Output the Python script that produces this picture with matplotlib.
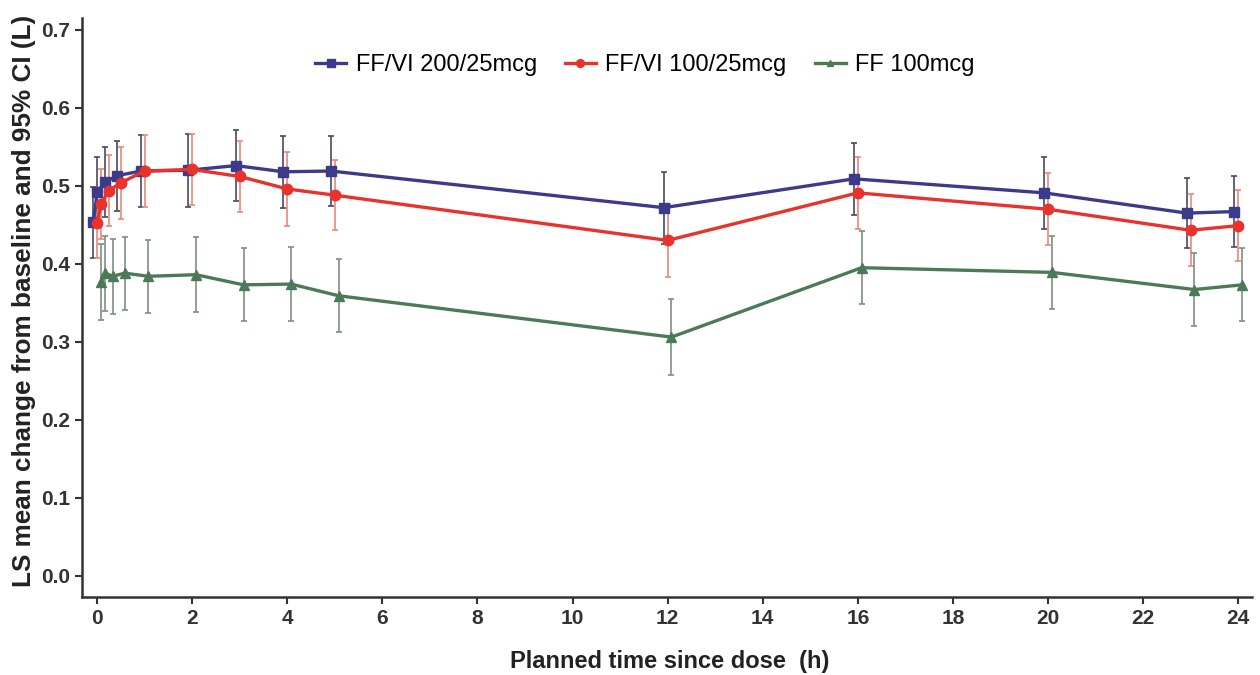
import matplotlib
matplotlib.use("Agg")
import matplotlib.pyplot as plt
import numpy as np

plt.rcParams["font.family"] = ["Liberation Sans", "DejaVu Sans"]

# Planned sampling times (h)
times = np.array([0, 0.083, 0.25, 0.5, 1, 2, 3, 4, 5, 12, 16, 20, 23, 24])

# LS mean change from baseline (L) and 95% CI half-widths
ff_vi_200 = [0.453, 0.492, 0.505, 0.513, 0.519, 0.520, 0.526, 0.518, 0.519,
             0.472, 0.509, 0.491, 0.465, 0.467]
ff_vi_200_ci = [0.045, 0.045, 0.045, 0.045, 0.046, 0.047, 0.045, 0.046, 0.045,
                0.046, 0.046, 0.046, 0.045, 0.046]

ff_vi_100 = [0.452, 0.477, 0.494, 0.504, 0.519, 0.521, 0.512, 0.496, 0.488,
             0.430, 0.491, 0.470, 0.443, 0.449]
ff_vi_100_ci = [0.045, 0.045, 0.046, 0.046, 0.046, 0.045, 0.045, 0.047, 0.045,
                0.047, 0.046, 0.046, 0.046, 0.046]

ff_100 = [0.377, 0.388, 0.384, 0.388, 0.384, 0.386, 0.373, 0.374, 0.359,
          0.306, 0.395, 0.389, 0.367, 0.373]
ff_100_ci = [0.049, 0.048, 0.048, 0.047, 0.047, 0.048, 0.047, 0.047, 0.047,
             0.049, 0.047, 0.047, 0.047, 0.047]

labels = ["FF/VI 200/25mcg", "FF/VI 100/25mcg", "FF 100mcg"]

fig = plt.figure(figsize=(12.6, 6.75), dpi=100)
ax = fig.add_axes([0.065, 0.116, 0.929, 0.857])

# series: values, ci, colour, error bar colour, marker, size, dodge
series = [
    (ff_vi_200, ff_vi_200_ci, "#3c3a8a", "#4a4860", "s", 7.5, -0.08),
    (ff_vi_100, ff_vi_100_ci, "#e8322b", "#e8887a", "o", 7.5, 0.0),
    (ff_100, ff_100_ci, "#4b7a58", "#7d8f82", "^", 6.5, 0.08),
]

for (vals, ci, col, ecol, mk, ms, dx), lab in zip(series, labels):
    x = times + dx
    ax.errorbar(x, vals, yerr=ci, fmt="none", ecolor=ecol, elinewidth=1.2,
                capsize=2.5, capthick=1.2, zorder=2)
    ax.plot(x, vals, color=col, linewidth=2.4, marker=mk, markersize=ms,
            markerfacecolor=col, markeredgecolor=col, label=lab, zorder=3)

ax.set_xlim(-0.32, 24.3)
ax.set_ylim(-0.027, 0.715)
ax.set_xticks(np.arange(0, 25, 2))
ax.set_yticks(np.arange(0, 0.71, 0.1))
ax.yaxis.set_major_formatter(matplotlib.ticker.FormatStrFormatter("%.1f"))

for side in ["top", "right"]:
    ax.spines[side].set_visible(False)
for side in ["left", "bottom"]:
    ax.spines[side].set_linewidth(1.8)
    ax.spines[side].set_color("#333333")

ax.tick_params(axis="both", direction="out", length=5, width=1.5,
               colors="#333333", labelsize=15)
for lbl in ax.get_xticklabels() + ax.get_yticklabels():
    lbl.set_fontweight("bold")
    lbl.set_color("#333333")

ax.set_xlabel("Planned time since dose  (h)", fontsize=17, fontweight="bold",
              color="#222222")
ax.set_ylabel("LS mean change from baseline and 95% CI (L)", fontsize=18.8,
              fontweight="bold", color="#222222")
ax.xaxis.set_label_coords(0.502, -0.093)
ax.yaxis.set_label_coords(-0.039, 0.511)

ax.legend(loc="center", bbox_to_anchor=(0.481, 0.919), ncol=3,
          frameon=False, fontsize=17, handlelength=1.3, handletextpad=0.4,
          columnspacing=1.2, markerscale=0.75)

fig.savefig("out.png", dpi=100)
